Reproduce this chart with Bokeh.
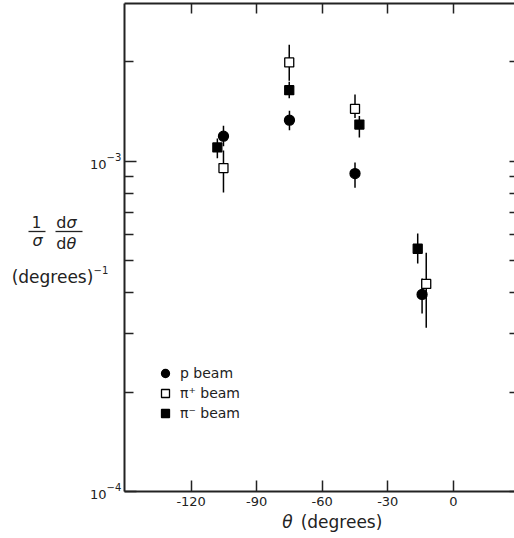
import math
from bokeh.plotting import figure
from bokeh.models import (Range1d, LogAxis, LinearAxis, FixedTicker,
                          Legend, LegendItem, ColumnDataSource, CustomJSTickFormatter)
from bokeh.core.properties import value
from bokeh.embed import file_html
from bokeh.resources import INLINE

# ---------------- data ----------------
p_theta = [-105.2, -75.0, -45.0, -14.3]
p_val = [1.19e-3, 1.33e-3, 0.917e-3, 0.395e-3]
p_lo = [1.11e-3, 1.24e-3, 0.83e-3, 0.346e-3]
p_hi = [1.28e-3, 1.42e-3, 0.99e-3, 0.441e-3]

pip_theta = [-105.2, -75.1, -45.0, -12.4]
pip_val = [0.953e-3, 1.99e-3, 1.44e-3, 0.425e-3]
pip_lo = [0.804e-3, 1.75e-3, 1.35e-3, 0.313e-3]
pip_hi = [1.076e-3, 2.25e-3, 1.59e-3, 0.528e-3]

pim_theta = [-108.0, -75.1, -43.0, -16.3]
pim_val = [1.10e-3, 1.64e-3, 1.29e-3, 0.543e-3]
pim_lo = [1.02e-3, 1.55e-3, 1.18e-3, 0.490e-3]
pim_hi = [1.17e-3, 1.74e-3, 1.37e-3, 0.604e-3]

series_names = ["p beam", "\u03c0\u207a beam", "\u03c0\u207b beam"]

x_ticks = [-120, -90, -60, -30, 0]
x_tick_labels = ["-120", "-90", "-60", "-30", "0"]
y_major = [1e-4, 1e-3]
y_minor = [2e-4, 3e-4, 4e-4, 5e-4, 6e-4, 7e-4, 8e-4, 9e-4, 2e-3]

X0, X1 = -150.5, 28.0
Y0, Y1 = 1e-4, 3e-3

# frame edges in canvas pixels
FL, FR, FT, FB = 124, 514, 3, 491


def px2x(px):
    return X0 + (px - FL) / (FR - FL) * (X1 - X0)


def py2y(py):
    return 10 ** (math.log10(Y0) + (FB - py) / (FB - FT) * (math.log10(Y1) - math.log10(Y0)))


FONT = "DejaVu Sans"
INK = "#222222"

p = figure(width=514, height=538, output_backend="svg", toolbar_location=None,
           x_range=Range1d(X0, X1), y_range=Range1d(Y0, Y1), y_axis_type="log",
           min_border_left=FL, min_border_right=0, min_border_top=FT,
           min_border_bottom=538 - FB, x_axis_location=None, y_axis_location=None)
p.outline_line_color = None
p.xgrid.visible = False
p.ygrid.visible = False
p.background_fill_color = "white"
p.border_fill_color = "white"

blank = CustomJSTickFormatter(code="return ''")


def style_y(ax, tin, tmin):
    ax.ticker = FixedTicker(ticks=y_major, minor_ticks=y_minor)
    ax.major_tick_in = tin
    ax.major_tick_out = 0
    ax.minor_tick_in = tmin
    ax.minor_tick_out = 0
    ax.major_tick_line_width = 1.5
    ax.minor_tick_line_width = 1.5
    ax.major_tick_line_color = INK
    ax.minor_tick_line_color = INK
    ax.formatter = blank
    ax.major_label_standoff = 0


yl = LogAxis()
style_y(yl, 12, 9)
yl.axis_line_width = 2
yl.axis_line_color = INK
p.add_layout(yl, "left")

yr = LogAxis()
style_y(yr, 5, 5)
yr.axis_line_color = None
p.add_layout(yr, "right")

xt = LinearAxis()
xt.ticker = FixedTicker(ticks=x_ticks, minor_ticks=[])
xt.major_tick_in = 10
xt.major_tick_out = 0
xt.major_tick_line_width = 1.5
xt.major_tick_line_color = INK
xt.formatter = blank
xt.major_label_standoff = 0
xt.axis_line_width = 2
xt.axis_line_color = INK
p.add_layout(xt, "above")

xb = LinearAxis()
xb.ticker = FixedTicker(ticks=x_ticks, minor_ticks=[])
xb.major_tick_in = 11
xb.major_tick_out = 0
xb.major_tick_line_width = 1.5
xb.major_tick_line_color = INK
xb.axis_line_width = 2
xb.axis_line_color = INK
xb.major_label_overrides = {t: s for t, s in zip(x_ticks, x_tick_labels)}
xb.major_label_text_font = FONT
xb.major_label_text_font_size = "13px"
xb.major_label_text_color = INK
xb.major_label_standoff = 5
p.add_layout(xb, "below")

# ---------------- error bars and markers ----------------
renderers = []
for th, v, lo, hi, marker, fill in [
    (pim_theta, pim_val, pim_lo, pim_hi, "square", "black"),
    (p_theta, p_val, p_lo, p_hi, "circle", "black"),
    (pip_theta, pip_val, pip_lo, pip_hi, "square", "white"),
]:
    src = ColumnDataSource(dict(x=th, y=v, lo=lo, hi=hi))
    p.segment(x0="x", y0="lo", x1="x", y1="hi", source=src, line_color="black", line_width=1.5)
    size = 10 if marker == "circle" else 9
    r = p.scatter(x="x", y="y", source=src, marker=marker, size=size,
                  fill_color=fill, line_color="black", line_width=1.3)
    renderers.append(r)

r_pim, r_p, r_pip = renderers

legend = Legend(items=[LegendItem(label=series_names[0], renderers=[r_p]),
                       LegendItem(label=series_names[1], renderers=[r_pip]),
                       LegendItem(label=series_names[2], renderers=[r_pim])],
                location=(31, 68), border_line_color=None, background_fill_alpha=0,
                padding=0, margin=0, spacing=0, glyph_width=20, glyph_height=20,
                label_height=20, label_standoff=5, label_text_font=FONT,
                label_text_font_size="14px", label_text_color=INK)
p.add_layout(legend, "center")


# ---------------- texts (overlay-level text glyphs, not clipped to the frame) ----------------
def lab(text, px, py, size, align="center", style="normal"):
    p.text(x=[px2x(px)], y=[py2y(py)], text=[text], text_font=value(FONT),
           text_font_size=value(f"{size}px"), text_font_style=value(style),
           text_align=value(align), text_baseline=value("middle"), text_color=INK,
           level="overlay")


# y tick labels
lab("10", 106, 164, 13, align="right")
lab("\u22123", 106, 156, 10, align="left")
lab("10", 106, 494, 13, align="right")
lab("\u22124", 106, 486, 10, align="left")

# x axis title
lab("\u03b8", 287, 521, 17, style="italic")
lab("(degrees)", 341, 521, 17)

# y axis title: 1/sigma dsigma/dtheta (degrees)^-1
lab("1", 36, 221, 15)
lab("\u03c3", 37, 240, 16, style="italic")
lab("d", 66, 222, 16, align="right")
lab("\u03c3", 66, 222, 16, align="left", style="italic")
lab("d", 66, 243, 16, align="right")
lab("\u03b8", 66, 243, 16, align="left", style="italic")
lab("(degrees)", 52, 276, 17)
lab("\u22121", 93, 269, 10, align="left")

bar_x0 = [px2x(28), px2x(55)]
bar_x1 = [px2x(45), px2x(82)]
bar_y = [py2y(231), py2y(231)]
p.segment(x0=bar_x0, y0=bar_y, x1=bar_x1, y1=bar_y, line_color=INK, line_width=1.3,
          level="overlay")

open("out.html", "w").write(file_html(p, INLINE))
